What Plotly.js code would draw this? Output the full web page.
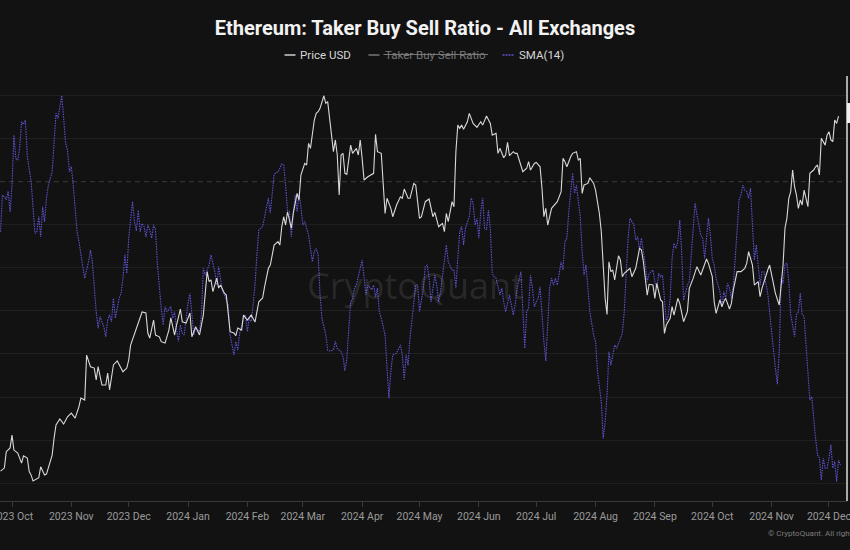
<!DOCTYPE html>
<html>
<head>
<meta charset="utf-8">
<script src="https://cdn.plot.ly/plotly-3.0.1.min.js"></script>
<style>
html,body{margin:0;padding:0;background:#121212;}
#chart{width:850px;height:550px;}
</style>
</head>
<body>
<div id="chart"></div>
<script>
// ---- Price USD (ETH) ----
const priceDates = ["2023-09-25","2023-09-27","2023-09-28","2023-09-30","2023-10-01","2023-10-02","2023-10-04","2023-10-06","2023-10-07","2023-10-09","2023-10-10","2023-10-11","2023-10-12","2023-10-15","2023-10-16","2023-10-18","2023-10-19","2023-10-22","2023-10-23","2023-10-24","2023-10-26","2023-10-28","2023-10-30","2023-11-01","2023-11-03","2023-11-05","2023-11-06","2023-11-08","2023-11-09","2023-11-11","2023-11-13","2023-11-14","2023-11-15","2023-11-17","2023-11-19","2023-11-20","2023-11-21","2023-11-23","2023-11-25","2023-11-28","2023-11-30","2023-12-01","2023-12-02","2023-12-05","2023-12-06","2023-12-08","2023-12-10","2023-12-11","2023-12-12","2023-12-14","2023-12-15","2023-12-17","2023-12-18","2023-12-20","2023-12-22","2023-12-23","2023-12-25","2023-12-26","2023-12-28","2023-12-29","2023-12-31","2024-01-02","2024-01-03","2024-01-05","2024-01-07","2024-01-09","2024-01-11","2024-01-12","2024-01-13","2024-01-14","2024-01-16","2024-01-17","2024-01-18","2024-01-20","2024-01-21","2024-01-23","2024-01-25","2024-01-26","2024-01-27","2024-01-29","2024-01-30","2024-02-01","2024-02-03","2024-02-05","2024-02-07","2024-02-09","2024-02-10","2024-02-12","2024-02-13","2024-02-15","2024-02-17","2024-02-18","2024-02-19","2024-02-20","2024-02-21","2024-02-22","2024-02-24","2024-02-25","2024-02-27","2024-02-28","2024-02-29","2024-03-02","2024-03-03","2024-03-04","2024-03-05","2024-03-07","2024-03-08","2024-03-09","2024-03-10","2024-03-12","2024-03-13","2024-03-14","2024-03-15","2024-03-16","2024-03-17","2024-03-18","2024-03-19","2024-03-20","2024-03-21","2024-03-22","2024-03-23","2024-03-24","2024-03-26","2024-03-27","2024-03-29","2024-03-30","2024-03-31","2024-04-01","2024-04-02","2024-04-04","2024-04-07","2024-04-08","2024-04-09","2024-04-11","2024-04-13","2024-04-14","2024-04-16","2024-04-17","2024-04-19","2024-04-21","2024-04-22","2024-04-23","2024-04-25","2024-04-26","2024-04-28","2024-04-29","2024-04-30","2024-05-01","2024-05-02","2024-05-03","2024-05-04","2024-05-06","2024-05-07","2024-05-08","2024-05-09","2024-05-11","2024-05-12","2024-05-13","2024-05-14","2024-05-15","2024-05-16","2024-05-18","2024-05-19","2024-05-20","2024-05-21","2024-05-22","2024-05-23","2024-05-24","2024-05-26","2024-05-27","2024-05-29","2024-05-31","2024-06-02","2024-06-03","2024-06-05","2024-06-07","2024-06-08","2024-06-10","2024-06-11","2024-06-12","2024-06-14","2024-06-15","2024-06-16","2024-06-17","2024-06-19","2024-06-20","2024-06-21","2024-06-23","2024-06-24","2024-06-26","2024-06-27","2024-06-28","2024-06-30","2024-07-01","2024-07-03","2024-07-04","2024-07-05","2024-07-06","2024-07-07","2024-07-09","2024-07-11","2024-07-12","2024-07-14","2024-07-15","2024-07-16","2024-07-17","2024-07-19","2024-07-20","2024-07-22","2024-07-23","2024-07-24","2024-07-25","2024-07-26","2024-07-28","2024-07-29","2024-07-31","2024-08-01","2024-08-03","2024-08-04","2024-08-05","2024-08-06","2024-08-07","2024-08-08","2024-08-09","2024-08-10","2024-08-11","2024-08-13","2024-08-14","2024-08-15","2024-08-16","2024-08-18","2024-08-19","2024-08-20","2024-08-22","2024-08-24","2024-08-25","2024-08-26","2024-08-28","2024-08-29","2024-08-31","2024-09-01","2024-09-02","2024-09-04","2024-09-05","2024-09-06","2024-09-07","2024-09-09","2024-09-10","2024-09-11","2024-09-13","2024-09-14","2024-09-16","2024-09-18","2024-09-19","2024-09-21","2024-09-22","2024-09-23","2024-09-25","2024-09-27","2024-09-28","2024-09-29","2024-10-01","2024-10-02","2024-10-03","2024-10-05","2024-10-06","2024-10-07","2024-10-08","2024-10-10","2024-10-11","2024-10-12","2024-10-14","2024-10-16","2024-10-18","2024-10-19","2024-10-20","2024-10-22","2024-10-23","2024-10-25","2024-10-26","2024-10-27","2024-10-29","2024-10-30","2024-10-31","2024-11-02","2024-11-03","2024-11-05","2024-11-06","2024-11-07","2024-11-08","2024-11-09","2024-11-10","2024-11-11","2024-11-12","2024-11-13","2024-11-14","2024-11-15","2024-11-16","2024-11-17","2024-11-18","2024-11-19","2024-11-20","2024-11-21","2024-11-23","2024-11-24","2024-11-25","2024-11-26","2024-11-27","2024-11-29","2024-11-30","2024-12-01","2024-12-02","2024-12-03","2024-12-04","2024-12-05","2024-12-06"];
const priceValues = [1583,1595,1662,1678,1733,1669,1656,1615,1645,1636,1581,1567,1544,1557,1600,1567,1571,1648,1721,1778,1805,1782,1815,1832,1809,1862,1903,1893,2120,2059,2052,1991,2059,1966,1966,2026,1942,2068,2089,2033,2052,2094,2174,2270,2298,2363,2357,2241,2213,2316,2230,2220,2193,2185,2258,2328,2230,2287,2381,2306,2298,2357,2220,2277,2230,2345,2616,2551,2562,2487,2574,2510,2529,2478,2466,2249,2241,2226,2270,2258,2345,2316,2345,2304,2425,2448,2518,2638,2660,2797,2821,2797,2929,3004,2942,3042,2918,3029,3186,3133,3337,3436,3422,3614,3569,3833,3897,3914,3947,4074,3997,4014,3849,3706,3539,3645,3509,3173,3509,3524,3351,3342,3598,3524,3569,3509,3645,3480,3295,3322,3351,3697,3539,3524,3029,3147,3068,3004,3094,3159,3147,3221,3147,3147,3267,3254,3133,2992,3004,3055,3120,3141,3068,3004,3037,2929,2942,2954,2893,3029,2967,3120,3081,3539,3784,3753,3784,3744,3816,3897,3800,3763,3816,3784,3871,3800,3690,3706,3524,3569,3485,3509,3623,3503,3539,3524,3524,3428,3365,3394,3451,3379,3436,3444,3407,3227,3004,3068,2942,3068,3107,3120,3200,3480,3451,3407,3494,3524,3539,3465,3480,3186,3254,3267,3314,3267,3213,3029,2893,2682,2446,2349,2682,2616,2627,2562,2723,2694,2583,2605,2627,2638,2583,2638,2774,2763,2682,2466,2534,2529,2446,2540,2436,2425,2239,2287,2326,2395,2345,2446,2415,2306,2365,2508,2572,2605,2649,2594,2660,2701,2671,2583,2425,2355,2436,2395,2425,2446,2381,2415,2498,2616,2616,2638,2671,2751,2660,2529,2551,2456,2508,2594,2627,2660,2529,2477,2405,2529,2660,2918,2992,3147,3200,3379,3240,3173,3068,3133,3094,3213,3147,3081,3351,3379,3407,3422,3337,3660,3598,3690,3722,3645,3629,3833,3800,3871];

// ---- SMA(14) of Taker Buy Sell Ratio ----
const smaDates = ["2023-09-25","2023-09-26","2023-09-27","2023-09-28","2023-09-29","2023-09-30","2023-10-01","2023-10-02","2023-10-03","2023-10-04","2023-10-05","2023-10-06","2023-10-07","2023-10-08","2023-10-09","2023-10-11","2023-10-13","2023-10-14","2023-10-15","2023-10-16","2023-10-17","2023-10-18","2023-10-19","2023-10-20","2023-10-22","2023-10-23","2023-10-24","2023-10-25","2023-10-27","2023-10-28","2023-10-29","2023-10-30","2023-10-31","2023-11-01","2023-11-02","2023-11-04","2023-11-05","2023-11-07","2023-11-08","2023-11-10","2023-11-11","2023-11-12","2023-11-13","2023-11-14","2023-11-15","2023-11-16","2023-11-18","2023-11-19","2023-11-20","2023-11-21","2023-11-22","2023-11-23","2023-11-24","2023-11-26","2023-11-27","2023-11-28","2023-11-29","2023-11-30","2023-12-01","2023-12-03","2023-12-04","2023-12-05","2023-12-06","2023-12-07","2023-12-08","2023-12-09","2023-12-10","2023-12-11","2023-12-12","2023-12-13","2023-12-14","2023-12-15","2023-12-16","2023-12-17","2023-12-18","2023-12-19","2023-12-20","2023-12-21","2023-12-23","2023-12-24","2023-12-25","2023-12-26","2023-12-27","2023-12-28","2023-12-29","2023-12-30","2023-12-31","2024-01-01","2024-01-02","2024-01-03","2024-01-04","2024-01-05","2024-01-07","2024-01-08","2024-01-09","2024-01-10","2024-01-12","2024-01-13","2024-01-15","2024-01-16","2024-01-17","2024-01-19","2024-01-20","2024-01-22","2024-01-23","2024-01-24","2024-01-25","2024-01-26","2024-01-27","2024-01-28","2024-01-30","2024-01-31","2024-02-01","2024-02-02","2024-02-03","2024-02-04","2024-02-05","2024-02-06","2024-02-07","2024-02-09","2024-02-10","2024-02-11","2024-02-12","2024-02-13","2024-02-15","2024-02-16","2024-02-17","2024-02-19","2024-02-20","2024-02-21","2024-02-22","2024-02-23","2024-02-24","2024-02-25","2024-02-26","2024-02-27","2024-02-28","2024-02-29","2024-03-01","2024-03-02","2024-03-04","2024-03-05","2024-03-06","2024-03-07","2024-03-08","2024-03-09","2024-03-10","2024-03-11","2024-03-13","2024-03-14","2024-03-15","2024-03-17","2024-03-18","2024-03-19","2024-03-21","2024-03-22","2024-03-23","2024-03-24","2024-03-25","2024-03-26","2024-03-27","2024-03-28","2024-03-29","2024-03-30","2024-04-01","2024-04-02","2024-04-03","2024-04-04","2024-04-06","2024-04-07","2024-04-08","2024-04-09","2024-04-10","2024-04-11","2024-04-13","2024-04-14","2024-04-15","2024-04-16","2024-04-17","2024-04-19","2024-04-21","2024-04-22","2024-04-23","2024-04-24","2024-04-25","2024-04-26","2024-04-28","2024-04-29","2024-04-30","2024-05-01","2024-05-03","2024-05-04","2024-05-05","2024-05-06","2024-05-07","2024-05-09","2024-05-10","2024-05-11","2024-05-12","2024-05-13","2024-05-14","2024-05-15","2024-05-16","2024-05-18","2024-05-19","2024-05-20","2024-05-21","2024-05-22","2024-05-23","2024-05-24","2024-05-25","2024-05-27","2024-05-28","2024-05-29","2024-05-30","2024-05-31","2024-06-01","2024-06-02","2024-06-03","2024-06-04","2024-06-05","2024-06-06","2024-06-07","2024-06-08","2024-06-09","2024-06-10","2024-06-12","2024-06-13","2024-06-14","2024-06-15","2024-06-17","2024-06-18","2024-06-19","2024-06-20","2024-06-21","2024-06-23","2024-06-24","2024-06-25","2024-06-26","2024-06-27","2024-06-28","2024-06-29","2024-06-30","2024-07-02","2024-07-03","2024-07-04","2024-07-05","2024-07-06","2024-07-07","2024-07-08","2024-07-09","2024-07-10","2024-07-11","2024-07-12","2024-07-14","2024-07-15","2024-07-16","2024-07-17","2024-07-18","2024-07-19","2024-07-20","2024-07-21","2024-07-22","2024-07-23","2024-07-24","2024-07-25","2024-07-26","2024-07-27","2024-07-28","2024-07-29","2024-07-31","2024-08-01","2024-08-02","2024-08-04","2024-08-05","2024-08-06","2024-08-07","2024-08-08","2024-08-09","2024-08-11","2024-08-12","2024-08-13","2024-08-14","2024-08-15","2024-08-16","2024-08-17","2024-08-18","2024-08-19","2024-08-21","2024-08-22","2024-08-23","2024-08-24","2024-08-25","2024-08-27","2024-08-28","2024-08-29","2024-08-31","2024-09-01","2024-09-02","2024-09-03","2024-09-04","2024-09-05","2024-09-06","2024-09-07","2024-09-08","2024-09-09","2024-09-10","2024-09-11","2024-09-12","2024-09-13","2024-09-14","2024-09-15","2024-09-16","2024-09-18","2024-09-19","2024-09-20","2024-09-21","2024-09-22","2024-09-23","2024-09-24","2024-09-25","2024-09-26","2024-09-27","2024-09-28","2024-09-29","2024-09-30","2024-10-01","2024-10-02","2024-10-03","2024-10-05","2024-10-06","2024-10-07","2024-10-08","2024-10-09","2024-10-10","2024-10-11","2024-10-12","2024-10-13","2024-10-14","2024-10-15","2024-10-16","2024-10-17","2024-10-18","2024-10-19","2024-10-20","2024-10-21","2024-10-22","2024-10-23","2024-10-24","2024-10-25","2024-10-26","2024-10-27","2024-10-28","2024-10-29","2024-10-30","2024-11-01","2024-11-02","2024-11-03","2024-11-04","2024-11-05","2024-11-06","2024-11-07","2024-11-08","2024-11-09","2024-11-10","2024-11-11","2024-11-12","2024-11-13","2024-11-14","2024-11-15","2024-11-16","2024-11-17","2024-11-18","2024-11-19","2024-11-20","2024-11-21","2024-11-22","2024-11-23","2024-11-24","2024-11-25","2024-11-26","2024-11-27","2024-11-28","2024-11-29","2024-11-30","2024-12-01","2024-12-02","2024-12-03","2024-12-04","2024-12-05","2024-12-06","2024-12-07"];
const smaValues = [0.9884,0.9969,0.9965,0.9958,0.9978,0.9930,0.9992,1.0108,1.0054,1.0050,1.0078,1.0139,1.0133,1.0143,1.0058,1.0000,0.9880,0.9884,0.9919,0.9872,0.9942,0.9907,0.9962,0.9992,1.0023,1.0089,1.0159,1.0147,1.0200,1.0147,1.0089,1.0074,1.0023,1.0035,0.9992,0.9884,0.9861,0.9803,0.9776,0.9814,0.9841,0.9814,0.9745,0.9698,0.9660,0.9687,0.9663,0.9640,0.9679,0.9691,0.9675,0.9729,0.9683,0.9729,0.9741,0.9776,0.9830,0.9787,0.9869,0.9954,0.9907,0.9886,0.9934,0.9884,0.9903,0.9896,0.9872,0.9900,0.9888,0.9869,0.9900,0.9888,0.9807,0.9745,0.9706,0.9667,0.9710,0.9698,0.9710,0.9683,0.9698,0.9656,0.9629,0.9667,0.9648,0.9644,0.9683,0.9718,0.9741,0.9683,0.9644,0.9660,0.9652,0.9691,0.9799,0.9783,0.9807,0.9830,0.9791,0.9760,0.9803,0.9745,0.9737,0.9714,0.9644,0.9621,0.9598,0.9629,0.9609,0.9648,0.9683,0.9691,0.9652,0.9683,0.9675,0.9714,0.9760,0.9830,0.9888,0.9896,0.9919,0.9938,0.9962,0.9927,1.0016,1.0022,1.0022,1.0041,1.0039,0.9992,0.9934,0.9930,0.9872,0.9923,0.9969,0.9930,0.9973,0.9942,0.9900,0.9907,0.9876,0.9845,0.9814,0.9838,0.9845,0.9830,0.9737,0.9683,0.9644,0.9609,0.9607,0.9609,0.9629,0.9613,0.9605,0.9594,0.9561,0.9590,0.9667,0.9721,0.9729,0.9753,0.9760,0.9779,0.9818,0.9779,0.9737,0.9760,0.9749,0.9760,0.9733,0.9753,0.9698,0.9683,0.9644,0.9567,0.9497,0.9559,0.9598,0.9602,0.9621,0.9598,0.9540,0.9598,0.9574,0.9636,0.9721,0.9760,0.9760,0.9698,0.9753,0.9803,0.9807,0.9776,0.9721,0.9783,0.9760,0.9721,0.9745,0.9779,0.9807,0.9853,0.9814,0.9795,0.9795,0.9753,0.9822,0.9884,0.9896,0.9853,0.9892,0.9919,0.9962,0.9950,0.9900,0.9915,0.9869,0.9930,0.9962,0.9892,0.9888,0.9934,0.9892,0.9787,0.9779,0.9776,0.9737,0.9753,0.9721,0.9698,0.9737,0.9714,0.9691,0.9714,0.9753,0.9791,0.9683,0.9613,0.9698,0.9706,0.9783,0.9753,0.9710,0.9729,0.9756,0.9683,0.9629,0.9584,0.9683,0.9753,0.9776,0.9760,0.9776,0.9760,0.9814,0.9795,0.9861,0.9869,0.9930,0.9969,1.0020,0.9973,0.9992,0.9954,0.9919,0.9838,0.9783,0.9807,0.9760,0.9698,0.9644,0.9629,0.9559,0.9489,0.9404,0.9443,0.9505,0.9605,0.9574,0.9621,0.9613,0.9625,0.9636,0.9648,0.9698,0.9783,0.9869,0.9915,0.9900,0.9865,0.9872,0.9841,0.9869,0.9807,0.9768,0.9787,0.9795,0.9768,0.9753,0.9787,0.9779,0.9783,0.9729,0.9675,0.9691,0.9729,0.9822,0.9857,0.9845,0.9861,0.9911,0.9838,0.9725,0.9760,0.9768,0.9822,0.9892,0.9950,0.9923,0.9900,0.9876,0.9869,0.9822,0.9869,0.9915,0.9876,0.9822,0.9807,0.9776,0.9745,0.9710,0.9745,0.9729,0.9764,0.9753,0.9729,0.9760,0.9822,0.9892,0.9958,0.9969,0.9992,0.9981,0.9977,0.9962,0.9985,0.9900,0.9818,0.9853,0.9807,0.9760,0.9791,0.9791,0.9764,0.9741,0.9652,0.9605,0.9567,0.9530,0.9605,0.9776,0.9764,0.9807,0.9811,0.9768,0.9691,0.9667,0.9640,0.9691,0.9698,0.9741,0.9691,0.9687,0.9613,0.9551,0.9493,0.9501,0.9443,0.9404,0.9366,0.9358,0.9307,0.9358,0.9335,0.9335,0.9358,0.9389,0.9335,0.9350,0.9304,0.9354,0.9342];

const titleText = "Ethereum: Taker Buy Sell Ratio - All Exchanges";
const legendLabels = ["Price USD", "Taker Buy Sell Ratio", "SMA(14)"];
const smaGridVals = [0.93,0.94,0.95,0.96,0.97,0.98,0.99,1.01,1.02];

const BG = "#121212";
const PURPLE = "#5d53cf";
const WHITE = "#d8d8d8";

const traces = [
  {x: smaDates, y: smaValues, type: "scatter", mode: "lines", name: legendLabels[2],
   xaxis: "x", yaxis: "y", line: {color: PURPLE, width: 1.1, dash: "1.5px,1px"}, hoverinfo: "skip"},
  {x: priceDates, y: priceValues, type: "scatter", mode: "lines", name: legendLabels[0],
   xaxis: "x", yaxis: "y2", line: {color: WHITE, width: 1.1}, hoverinfo: "skip"}
];

// helpers for paper coords (plot area: x 0..847, y 76..501)
const PW = 847, PT = 76, PB = 501;
const px = v => v / PW;
const py = v => (PB - v) / (PB - PT);

const legendY = 55;
const layout = {
  width: 850, height: 550,
  paper_bgcolor: BG, plot_bgcolor: BG,
  margin: {l: 0, r: 3, t: PT, b: 550 - PB, pad: 0},
  showlegend: false,
  title: {text: titleText, x: 0.5, xref: "container", y: 1 - 28/550, yref: "container",
          yanchor: "middle", xanchor: "center",
          font: {family: "Roboto, 'Noto Sans', sans-serif", size: 20, color: "#f2f2f2", weight: 700}},
  xaxis: {type: "date", range: ["2023-09-24 17:28", "2024-12-10 10:05"],
          tick0: "2023-10-01", dtick: "M1", tickformat: "%Y %b",
          ticks: "outside", ticklen: 5, tickcolor: "#3a3a3a", tickwidth: 1,
          ticklabeloverflow: "allow",
          showline: true, linecolor: "#3a3a3a", linewidth: 1,
          showgrid: false, zeroline: false,
          tickfont: {family: "Roboto, sans-serif", size: 10.5, color: "#9a9a9a"},
          fixedrange: true},
  yaxis: {range: [0.925865, 1.024541], tickmode: "array", tickvals: smaGridVals,
          showticklabels: false, ticks: "", showgrid: true, gridcolor: "#1f1f1f", gridwidth: 1,
          zeroline: false, showline: false, fixedrange: true},
  yaxis2: {type: "log", range: [3.166736, 3.631664], overlaying: "y", side: "right",
           showticklabels: false, ticks: "", showgrid: false, zeroline: false, showline: false,
           fixedrange: true},
  shapes: [
    {type: "line", xref: "paper", x0: 0, x1: 1, yref: "y", y0: 1, y1: 1,
     line: {color: "#3a3a3a", width: 1, dash: "5px,4px"}, layer: "below"},
    {type: "line", xref: "paper", yref: "paper", x0: 1, x1: 1, y0: 0, y1: 1,
     line: {color: "#dcdcdc", width: 1.5}},
    {type: "rect", xref: "paper", yref: "paper", x0: 1, x1: px(852), y0: py(123), y1: py(103),
     fillcolor: "#f0f0f0", line: {width: 0}},
    {type: "line", xref: "paper", yref: "paper", x0: px(284.5), x1: px(295.5), y0: py(legendY), y1: py(legendY),
     line: {color: "#cfcfcf", width: 1.5}},
    {type: "line", xref: "paper", yref: "paper", x0: px(368.5), x1: px(379.5), y0: py(legendY), y1: py(legendY),
     line: {color: "#777777", width: 1.5}},
    {type: "line", xref: "paper", yref: "paper", x0: px(502.5), x1: px(513.5), y0: py(legendY), y1: py(legendY),
     line: {color: PURPLE, width: 1.5, dash: "2px,1px"}},
    {type: "line", xref: "paper", yref: "paper", x0: px(383.5), x1: px(488), y0: py(legendY - 0.5), y1: py(legendY - 0.5),
     line: {color: "#777777", width: 1}}
  ],
  annotations: [
    {text: legendLabels[0], xref: "paper", yref: "paper", x: px(298), y: py(legendY), xanchor: "left", yanchor: "middle",
     showarrow: false, font: {family: "Roboto, sans-serif", size: 11.5, color: "#d6d6d6"}},
    {text: legendLabels[1], xref: "paper", yref: "paper", x: px(382.5), y: py(legendY), xanchor: "left", yanchor: "middle",
     showarrow: false, font: {family: "Roboto, sans-serif", size: 11.5, color: "#777777"}},
    {text: legendLabels[2], xref: "paper", yref: "paper", x: px(516.5), y: py(legendY), xanchor: "left", yanchor: "middle",
     showarrow: false, font: {family: "Roboto, sans-serif", size: 11.5, color: "#d6d6d6"}},
    {text: "CryptoQuant", xref: "paper", yref: "paper", x: px(415), y: py(285), xanchor: "center", yanchor: "middle",
     showarrow: false, font: {family: "'Open Sans', sans-serif", size: 36, color: "rgba(255,255,255,0.1)"}},
    {text: "© CryptoQuant. All rights reserved.", xref: "paper", yref: "paper", x: px(766), y: py(533),
     xanchor: "left", yanchor: "middle", showarrow: false,
     font: {family: "Roboto, sans-serif", size: 8, color: "#7c7c7c"}}
  ]
};

Plotly.newPlot("chart", traces, layout, {staticPlot: true, displayModeBar: false});
</script>
</body>
</html>
